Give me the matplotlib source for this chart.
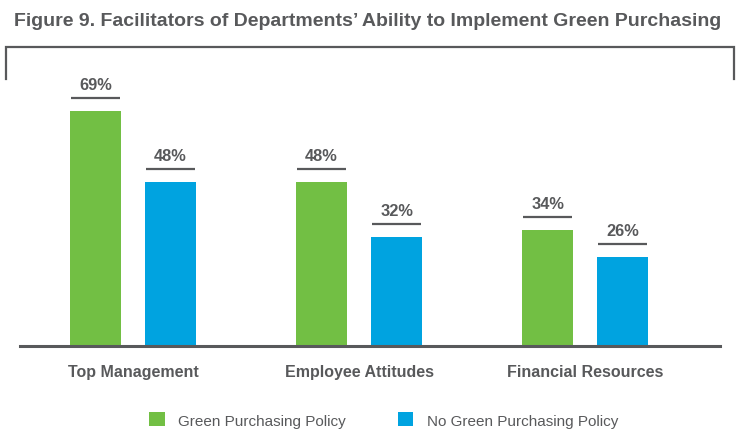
import numpy as np
import matplotlib.pyplot as plt
from matplotlib.lines import Line2D

# Facilitators of departments' ability to implement green purchasing (%)
categories = ['Top Management', 'Employee Attitudes', 'Financial Resources']
with_policy = [69, 48, 34]
without_policy = [48, 32, 26]
series_names = ['Green Purchasing Policy', 'No Green Purchasing Policy']

GREEN = '#72BF44'
BLUE = '#00A3E0'
GRAY = '#58595B'

plt.rcParams['font.family'] = ['Liberation Sans', 'DejaVu Sans']

fig = plt.figure(figsize=(7.4, 4.31), dpi=100)
W, H = 740, 431
ax = fig.add_axes([20 / W, (H - 347) / H, 700 / W, 299 / H])

x = np.arange(len(categories))
width = 0.226
off = 0.166
b1 = ax.bar(x - off, with_policy, width, color=GREEN, label=series_names[0])
b2 = ax.bar(x + off, without_policy, width, color=BLUE, label=series_names[1])

# value labels with a short rule under each
for bars in (b1, b2):
    for rect in bars:
        h = rect.get_height()
        cx = rect.get_x() + rect.get_width() / 2
        ax.plot([rect.get_x() + 0.005, rect.get_x() + rect.get_width() - 0.005],
                [h + 3.8, h + 3.8], color=GRAY, lw=1.6, solid_capstyle='butt')
        ax.text(cx, h + 7.8, f'{h}%', ha='center', va='center',
                fontsize=11.8, fontweight='bold', color=GRAY)

ax.set_xlim(-0.5, 2.597)
ax.set_ylim(0, 87.7)
ax.set_xticks(x)
ax.set_xticklabels(categories, fontsize=11.5, fontweight='bold', color=GRAY)
ax.tick_params(axis='x', length=0, pad=13)
ax.set_yticks([])
for s in ['top', 'left', 'right']:
    ax.spines[s].set_visible(False)
ax.spines['bottom'].set_color(GRAY)
ax.spines['bottom'].set_linewidth(2.2)

# bracket frame at the top
fy = lambda py: (H - py) / H
fx = lambda px: px / W
fig.add_artist(Line2D([fx(6), fx(6), fx(734), fx(734)],
                      [fy(80), fy(48), fy(48), fy(80)],
                      color=GRAY, lw=1.6, solid_joinstyle='miter'))

fig.text(fx(368), fy(22), 'Figure 9. Facilitators of Departments\u2019 Ability to Implement Green Purchasing',
         ha='center', va='center', fontsize=14, fontweight='bold', color=GRAY)

fig.legend(handles=[b1, b2], labels=series_names, loc='center',
           bbox_to_anchor=(fx(384), fy(421)), ncol=2, frameon=False,
           fontsize=11, handlelength=1.0, handleheight=1.0, columnspacing=3.4,
           handletextpad=0.9, labelcolor=GRAY)

fig.savefig('out.png', dpi=100, facecolor='white')
